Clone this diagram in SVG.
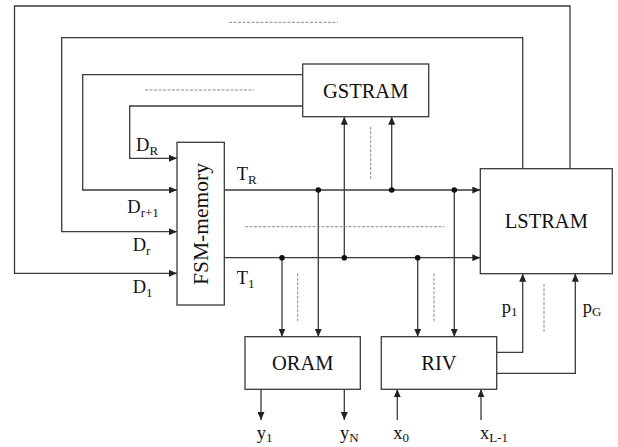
<svg xmlns="http://www.w3.org/2000/svg" width="618" height="447" viewBox="0 0 618 447">
<defs>
<marker id="ar" markerUnits="userSpaceOnUse" markerWidth="9" markerHeight="7" refX="8" refY="3.5" orient="auto">
<path d="M0,0 L8,3.5 L0,7 z" fill="#222"/>
</marker>
<style>
.ln{fill:none;stroke:#3a3a3a;stroke-width:1.3}
.bx{fill:#fff;stroke:#3a3a3a;stroke-width:1.3}
.ds{fill:none;stroke:#8a8a8a;stroke-width:1;stroke-dasharray:3,1.5}
.dt{fill:#111}
text{fill:#111}
</style>
</defs>
<rect width="618" height="447" fill="#fff"/>
<g id="connectors">
<polyline class="ln" points="570,168.7 570,6 14.5,6 14.5,273.3 177,273.3" marker-end="url(#ar)"/>
<polyline class="ln" points="522.7,168.7 522.7,37.7 61.7,37.7 61.7,231.7 177,231.7" marker-end="url(#ar)"/>
<polyline class="ln" points="302.7,74.7 82.7,74.7 82.7,190 177,190" marker-end="url(#ar)"/>
<polyline class="ln" points="302.7,106 129.7,106 129.7,158.3 177,158.3" marker-end="url(#ar)"/>
<line class="ln" x1="224.3" y1="190" x2="480.3" y2="190" marker-end="url(#ar)"/>
<line class="ln" x1="224.3" y1="257.7" x2="480.3" y2="257.7" marker-end="url(#ar)"/>
<line class="ln" x1="282" y1="257.7" x2="282" y2="336.7" marker-end="url(#ar)"/>
<line class="ln" x1="318.3" y1="190" x2="318.3" y2="336.7" marker-end="url(#ar)"/>
<line class="ln" x1="344.3" y1="257.7" x2="344.3" y2="116.7" marker-end="url(#ar)"/>
<line class="ln" x1="391.7" y1="190" x2="391.7" y2="116.7" marker-end="url(#ar)"/>
<line class="ln" x1="417.7" y1="257.7" x2="417.7" y2="336.7" marker-end="url(#ar)"/>
<line class="ln" x1="454.3" y1="190" x2="454.3" y2="336.7" marker-end="url(#ar)"/>
<line class="ln" x1="261" y1="389.3" x2="261" y2="420" marker-end="url(#ar)"/>
<line class="ln" x1="344.3" y1="389.3" x2="344.3" y2="420" marker-end="url(#ar)"/>
<line class="ln" x1="397.3" y1="420" x2="397.3" y2="389.3" marker-end="url(#ar)"/>
<line class="ln" x1="481" y1="420" x2="481" y2="389.3" marker-end="url(#ar)"/>
<polyline class="ln" points="496.7,352.3 522.7,352.3 522.7,273.7" marker-end="url(#ar)"/>
<polyline class="ln" points="496.7,373.3 575.3,373.3 575.3,273.7" marker-end="url(#ar)"/>
<circle class="dt" cx="318.3" cy="190" r="2.8"/>
<circle class="dt" cx="391.7" cy="190" r="2.8"/>
<circle class="dt" cx="454.3" cy="190" r="2.8"/>
<circle class="dt" cx="282" cy="257.7" r="2.8"/>
<circle class="dt" cx="344.3" cy="257.7" r="2.8"/>
<circle class="dt" cx="417.7" cy="257.7" r="2.8"/>
<line class="ds" x1="229" y1="22.3" x2="338" y2="22.3"/>
<line class="ds" x1="145" y1="90" x2="254" y2="90"/>
<line class="ds" x1="245" y1="226.7" x2="444.3" y2="226.7"/>
<line class="ds" x1="370.7" y1="126.7" x2="370.7" y2="179"/>
<line class="ds" x1="297.7" y1="273.3" x2="297.7" y2="321"/>
<line class="ds" x1="434" y1="273.3" x2="434" y2="321"/>
<line class="ds" x1="544" y1="284" x2="544" y2="331.7"/>
</g>
<g id="fsm">
<rect class="bx" x="177" y="142.3" width="47.3" height="162.7"/>
<text font-family="Liberation Serif, Times New Roman, serif" font-size="21.5" transform="translate(208,224) rotate(-90)" text-anchor="middle">FSM-memory</text>
</g>
<g id="gstram">
<rect class="bx" x="302.7" y="64" width="126" height="52.7"/>
<text font-family="Liberation Serif, Times New Roman, serif" font-size="20.5" x="365.7" y="98" text-anchor="middle">GSTRAM</text>
</g>
<g id="lstram">
<rect class="bx" x="480.3" y="168.7" width="132" height="105"/>
<text font-family="Liberation Serif, Times New Roman, serif" font-size="20.5" x="546.3" y="228" text-anchor="middle">LSTRAM</text>
</g>
<g id="oram">
<rect class="bx" x="245" y="336.7" width="115.3" height="52.6"/>
<text font-family="Liberation Serif, Times New Roman, serif" font-size="20.5" x="302.7" y="370" text-anchor="middle">ORAM</text>
</g>
<g id="riv">
<rect class="bx" x="381.3" y="336.7" width="115.4" height="52.6"/>
<text font-family="Liberation Serif, Times New Roman, serif" font-size="20.5" x="439" y="370" text-anchor="middle">RIV</text>
</g>
<g id="labels" font-family="Liberation Serif, Times New Roman, serif" font-size="18.5">
<text x="136" y="150.5">D<tspan font-size="13" dy="4">R</tspan></text>
<text x="127.3" y="212.7">D<tspan font-size="13" dy="4">r+1</tspan></text>
<text x="132.7" y="251">D<tspan font-size="13" dy="4">r</tspan></text>
<text x="132.7" y="293.3">D<tspan font-size="13" dy="4">1</tspan></text>
<text x="236.7" y="180">T<tspan font-size="13" dy="4">R</tspan></text>
<text x="236.7" y="284">T<tspan font-size="13" dy="4">1</tspan></text>
<text x="256.7" y="439">y<tspan font-size="13" dy="3">1</tspan></text>
<text x="340" y="439">y<tspan font-size="13" dy="3">N</tspan></text>
<text x="393.3" y="439">x<tspan font-size="13" dy="3">0</tspan></text>
<text x="480" y="439">x<tspan font-size="13" dy="3">L-1</tspan></text>
<text x="501.7" y="313">p<tspan font-size="13" dy="3">1</tspan></text>
<text x="582.7" y="313">p<tspan font-size="13" dy="3">G</tspan></text>
</g>
</svg>
